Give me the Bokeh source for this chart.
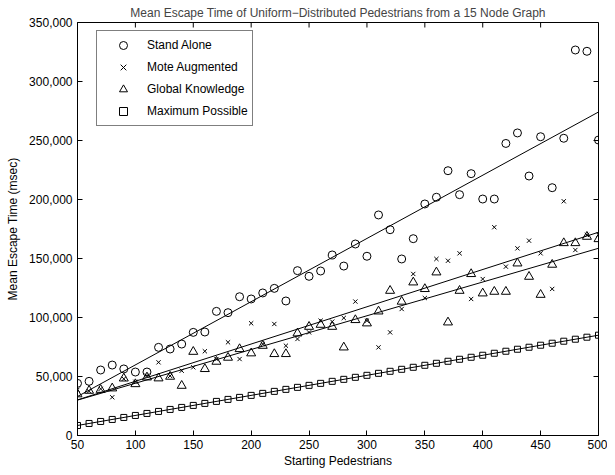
import numpy as np
from bokeh.plotting import figure
from bokeh.models import NumeralTickFormatter, Legend, LegendItem, FixedTicker, Range1d
from bokeh.embed import file_html
from bokeh.resources import INLINE

# ---------------- data ----------------
pedestrians = [50, 60, 70, 80, 90, 100, 110, 120, 130, 140, 150, 160, 170, 180, 190,
               200, 210, 220, 230, 240, 250, 260, 270, 280, 290, 300, 310, 320, 330, 340,
               350, 360, 370, 380, 390, 400, 410, 420, 430, 440, 450, 460, 470, 480, 490, 500]

stand_alone = [44200, 45900, 55500, 59700, 56400, 53800, 53800, 74700, 73300, 77500,
               87400, 87700, 105200, 104100, 117600, 115700, 120800, 124700, 114000, 139700,
               134900, 139400, 153000, 143600, 162300, 151900, 186900, 174400, 149600, 166800,
               196200, 201900, 224400, 204100, 221900, 200400, 200400, 247500, 256400, 219900,
               253200, 210000, 251900, 326700, 325600, 250400]

mote_augmented = [38800, 37500, 39500, 32400, 48000, 45500, 50700, 62000, 50500, 54900,
                  57800, 71400, 64800, 79000, 64800, 95100, 77500, 94500, 76100, 81800,
                  87400, 97300, 96500, 99600, 113500, 97300, 74700, 87400, 107200, 136900,
                  116500, 149600, 148100, 154400, 115700, 132600, 176500, 143100, 158600, 165100,
                  154400, 124200, 198500, 157200, 170000, 170200]

global_knowledge = [35000, 38000, 38800, 40000, 48400, 43600, 49300, 48500, 49900, 42200,
                    71000, 56400, 62600, 66000, 73300, 69700, 76100, 69100, 69100, 86600,
                    92200, 93900, 92200, 74700, 97900, 95100, 105200, 122700, 113500, 129800,
                    124200, 138300, 95900, 122700, 136900, 120500, 121900, 121900, 145900, 134600,
                    119300, 144800, 163100, 163100, 168500, 166500]

maximum_possible = [8500, 10200, 11900, 13600, 15300, 17000, 18700, 20400, 22100, 23800,
                    25500, 27200, 28900, 30600, 32300, 34000, 35700, 37400, 39100, 40800,
                    42500, 44200, 45900, 47600, 49300, 51000, 52700, 54400, 56100, 57800,
                    59500, 61200, 62900, 64600, 66300, 68000, 69700, 71400, 73100, 74800,
                    76500, 78200, 79900, 81600, 83300, 85000]

series_names = ["Stand Alone", "Mote Augmented", "Global Knowledge", "Maximum Possible"]
x_ticks = [50, 100, 150, 200, 250, 300, 350, 400, 450, 500]
y_ticks = [0, 50000, 100000, 150000, 200000, 250000, 300000, 350000]
x_lo, x_hi = 50, 500
y_lo, y_hi = 0, 350000

FONT = "Liberation Sans"

p = figure(width=607, height=467, frame_width=521, frame_height=413,
           min_border_left=77, min_border_right=9, min_border_top=20, min_border_bottom=34,
           x_range=Range1d(x_lo, x_hi), y_range=Range1d(y_lo, y_hi),
           output_backend="svg", toolbar_location=None,
           title="Mean Escape Time of Uniform\u2212Distributed Pedestrians from a 15 Node Graph")

p.title.align = "center"
p.title.text_font = FONT
p.title.text_font_size = "12px"
p.title.text_font_style = "normal"
p.title.standoff = 6
p.title.offset = 0

p.xgrid.visible = False
p.ygrid.visible = False
p.outline_line_color = "black"
p.outline_line_width = 1
p.background_fill_color = "white"
p.border_fill_color = "white"

def style_axis(ax):
    ax.axis_line_color = "black"
    ax.axis_line_width = 1
    ax.major_tick_in = 5
    ax.major_tick_out = 0
    ax.minor_tick_in = 0
    ax.minor_tick_out = 0
    ax.major_tick_line_color = "black"
    ax.major_label_text_font = FONT
    ax.major_label_text_font_size = "12px"
    ax.major_label_text_color = "black"
    ax.axis_label_text_font = FONT
    ax.axis_label_text_font_size = "12px"
    ax.axis_label_text_font_style = "normal"
    ax.axis_label_text_color = "black"

xa = p.xaxis[0]
xa.ticker = FixedTicker(ticks=x_ticks)
xa.axis_label = "Starting Pedestrians"
style_axis(xa)
xa.major_label_standoff = 4
xa.axis_label_standoff = 2

ya = p.yaxis[0]
ya.ticker = FixedTicker(ticks=y_ticks)
ya.formatter = NumeralTickFormatter(format="0,0")
ya.axis_label = "Mean Escape Time (msec)"
style_axis(ya)
ya.major_label_standoff = 5
ya.axis_label_standoff = 6

# inward ticks on the top and right edges of the box (MATLAB "box on" style)
p.ray(x=x_ticks, y=[y_hi] * len(x_ticks), length=5, length_units="screen",
      angle=-np.pi / 2, line_color="black", line_width=1)
p.ray(x=[x_hi] * len(y_ticks), y=y_ticks, length=5, length_units="screen",
      angle=np.pi, line_color="black", line_width=1)

# ---------------- fitted trend lines ----------------
xs = np.array(pedestrians, dtype=float)
xline = np.array([pedestrians[0], pedestrians[-1]], dtype=float)
for ys in (stand_alone, mote_augmented, global_knowledge, maximum_possible):
    m, b = np.polyfit(xs, np.array(ys, dtype=float), 1)
    p.line(xline, m * xline + b, line_color="black", line_width=1)

# ---------------- markers ----------------
r1 = p.scatter(pedestrians, stand_alone, marker="circle", size=8,
               fill_color=None, line_color="black", line_width=1)
r2 = p.scatter(pedestrians, mote_augmented, marker="x", size=6,
               line_color="black", line_width=1)
r3 = p.scatter(pedestrians, global_knowledge, marker="triangle", size=9,
               fill_color=None, line_color="black", line_width=1)
r4 = p.scatter(pedestrians, maximum_possible, marker="square", size=6,
               fill_color=None, line_color="black", line_width=1)

legend = Legend(items=[LegendItem(label=n, renderers=[r]) for n, r in
                       zip(series_names, [r1, r2, r3, r4])],
                location=(19, 413 - 10 - 94))
legend.label_text_font = FONT
legend.label_text_font_size = "12px"
legend.label_text_color = "black"
legend.label_height = 20
legend.glyph_height = 20
legend.glyph_width = 44
legend.label_standoff = 2
legend.label_width = 101
legend.spacing = 2
legend.padding = 4
legend.margin = 0
legend.border_line_color = "black"
legend.border_line_width = 1
legend.background_fill_color = "white"
legend.background_fill_alpha = 1
p.add_layout(legend, "center")

open("out.html", "w").write(file_html(p, INLINE))
